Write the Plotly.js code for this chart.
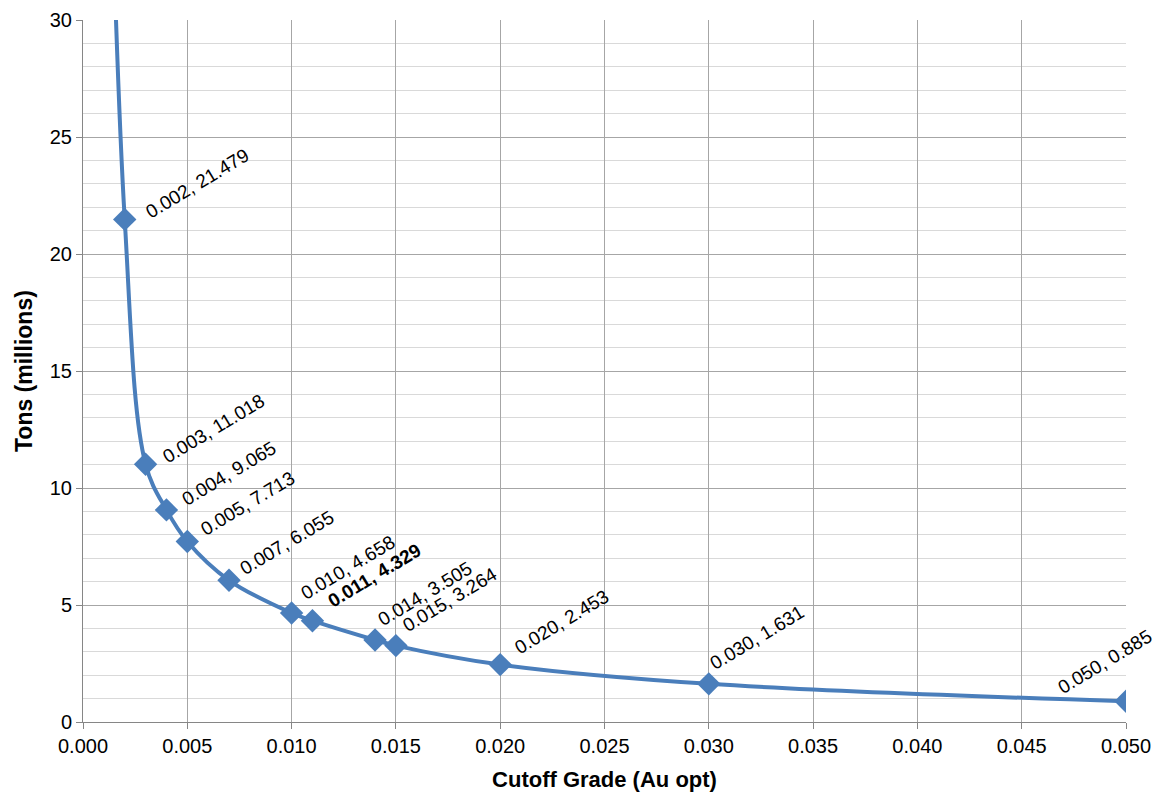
<!DOCTYPE html>
<html>
<head>
<meta charset="utf-8">
<script src="https://cdn.plot.ly/plotly-3.0.1.min.js"></script>
<style>
html,body{margin:0;padding:0;background:#fff;}
#chart{width:1158px;height:794px;}
</style>
</head>
<body>
<div id="chart"></div>
<script>
// Data
var cutoffGrade = [0.001, 0.002, 0.003, 0.004, 0.005, 0.007, 0.010, 0.011, 0.014, 0.015, 0.020, 0.030, 0.050];
var tonsMillions = [48, 21.479, 11.018, 9.065, 7.713, 6.055, 4.658, 4.329, 3.505, 3.264, 2.453, 1.631, 0.885];
var boldGrade = 0.011;
var xTickVals = [0.000, 0.005, 0.010, 0.015, 0.020, 0.025, 0.030, 0.035, 0.040, 0.045, 0.050];
var yTickVals = [0, 5, 10, 15, 20, 25, 30];
var xTitle = 'Cutoff Grade (Au opt)';
var yTitle = 'Tons (millions)';

// Label placement (pixel offsets of text start from marker), layout only
var labelOffsets = {
  '0.002': [23, 0], '0.003': [19, 0], '0.004': [17, -3], '0.005': [15, -4],
  '0.007': [13, -4], '0.010': [11, -12], '0.011': [17, -12], '0.014': [5, -13],
  '0.015': [9, -12], '0.020': [17, -9], '0.030': [3, -13], '0.050': [-66, -6]
};

var FONT = 'Liberation Sans, Arial, sans-serif';
var yMax = 30;

var annotations = [];
for (var i = 0; i < cutoffGrade.length; i++) {
  if (tonsMillions[i] > yMax) continue;
  var key = cutoffGrade[i].toFixed(3);
  var txt = key + ', ' + tonsMillions[i].toFixed(3);
  var bold = Math.abs(cutoffGrade[i] - boldGrade) < 1e-9;
  var off = labelOffsets[key] || [15, -4];
  annotations.push({
    x: cutoffGrade[i], y: tonsMillions[i], xref: 'x', yref: 'y',
    text: bold ? '<b>' + txt + '</b>' : txt,
    showarrow: false, textangle: -31,
    xanchor: 'left', yanchor: 'bottom',
    xshift: off[0] - 7, yshift: -off[1] - 4,
    font: {family: FONT, size: 19, color: '#000'},
    borderpad: 0
  });
}
// y-axis title as rotated annotation
annotations.push({
  x: 0, y: 0.5, xref: 'paper', yref: 'paper',
  text: '<b>' + yTitle + '</b>', showarrow: false, textangle: -90,
  xanchor: 'center', yanchor: 'middle', xshift: -59,
  font: {family: FONT, size: 23, color: '#000'}
});

var trace = {
  x: cutoffGrade, y: tonsMillions,
  type: 'scatter', mode: 'lines+markers',
  line: {color: '#4a7ebb', width: 4, shape: 'spline', smoothing: 1},
  marker: {symbol: 'diamond', size: 18, color: '#4a7ebb'},
  cliponaxis: true,
  hoverinfo: 'skip'
};

var layout = {
  width: 1158, height: 794,
  margin: {l: 83, r: 32, t: 20, b: 72, pad: 0},
  paper_bgcolor: '#fff', plot_bgcolor: '#fff',
  showlegend: false,
  font: {family: FONT, color: '#000'},
  xaxis: {
    range: [0, 0.05], tickvals: xTickVals, tickformat: '.3f',
    showgrid: true, gridcolor: '#a6a6a6', gridwidth: 1,
    zeroline: false, showline: true, linecolor: '#868686', linewidth: 1,
    ticks: 'outside', ticklen: 6, tickcolor: '#868686',
    tickfont: {family: FONT, size: 20, color: '#000'},
    title: {text: '<b>' + xTitle + '</b>', font: {family: FONT, size: 22, color: '#000'}, standoff: 15},
    fixedrange: true
  },
  yaxis: {
    range: [0, 30], tickvals: yTickVals,
    showgrid: true, gridcolor: '#a6a6a6', gridwidth: 1,
    minor: {dtick: 1, showgrid: true, gridcolor: '#d9d9d9', gridwidth: 1, ticks: ''},
    zeroline: false, showline: true, linecolor: '#868686', linewidth: 1,
    ticks: 'outside', ticklen: 6, tickcolor: '#868686',
    ticksuffix: '\u00a0\u2009',
    tickfont: {family: FONT, size: 20, color: '#000'},
    fixedrange: true
  },
  annotations: annotations
};

Plotly.newPlot('chart', [trace], layout, {staticPlot: true, displayModeBar: false});
</script>
</body>
</html>
